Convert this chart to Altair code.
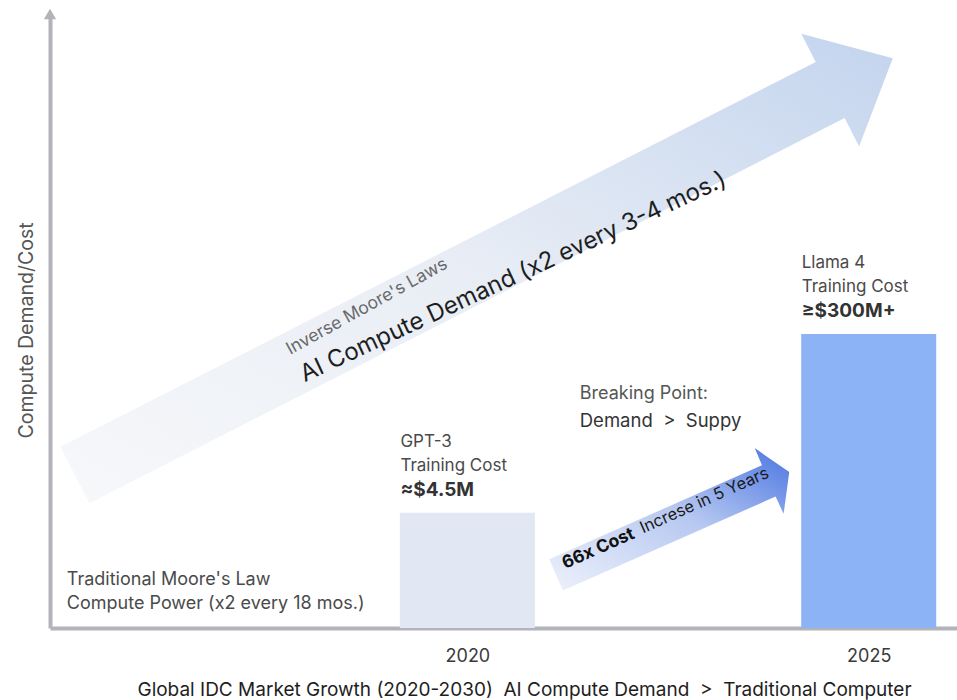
import altair as alt
import pandas as pd

FONT = "Inter"
AXIS_GRAY = "#b3b3bb"

# ---- bars: training cost per flagship model ($M) ----
years = [2020, 2025]
model_names = ["GPT-3", "Llama 4"]
cost_musd = [4.5, 300]
cost_labels = ["≈$4.5M", "\u00a0≥$300M+"]
bar_colors = ["#e1e7f3", "#8db3f7"]

# ---- scales ----
X_DOMAIN = [2014.8, 2026.1]          # years
COST_DOMAIN = [0.3, 550000]          # $M, log scale
LEVEL_DOMAIN = [0, 100]              # relative demand level for the trend arrows

# ---- trend arrows (polygon outlines, year vs. relative level) ----
demand_arrow_year = [2014.93, 2024.34, 2024.16, 2025.30, 2024.88, 2024.70, 2015.29]
demand_arrow_level = [29.5, 92.2, 96.8, 92.8, 78.4, 83.05, 20.3]

cost_arrow_year = [2021.02, 2023.67, 2023.58, 2024.01, 2023.94, 2023.84, 2021.19]
cost_arrow_level = [11.2, 26.5, 29.3, 25.4, 18.6, 21.4, 6.1]

# ---- annotation texts ----
moore_lines = ["Traditional Moore's Law", "Compute Power (x2 every 18 mos.)"]
moore_year = [2015.01, 2015.01]
moore_level = [7.8, 3.9]

breaking_lines = ["Breaking Point:", "Demand\u00a0\u00a0>\u00a0\u00a0Suppy"]
breaking_year = [2021.40, 2021.40]
breaking_level = [38.1, 33.7]

inverse_text = ["Inverse Moore's Laws"]
inverse_year = [2018.78]
inverse_level = [51.6]

demand_text = ["AI Compute Demand (x2 every 3-4 mos.)"]
demand_year = [2020.61]
demand_level = [56.1]

cost_bold = ["66x Cost"]
cost_bold_year = [2021.22]
cost_bold_level = [9.6]
cost_rest = ["Increse in 5 Years"]
cost_rest_year = [2023.77]
cost_rest_level = [24.6]

x_title = ("Global IDC Market Growth (2020-2030)\u00a0\u00a0AI Compute Demand"
           "\u00a0\u00a0>\u00a0\u00a0Traditional Computer")
y_title = "Compute Demand/Cost"

# ---------------------------------------------------------------------------
x_scale = alt.Scale(domain=X_DOMAIN, nice=False, zero=False, padding=0)
cost_scale = alt.Scale(type="log", domain=COST_DOMAIN, nice=False, padding=0)
level_scale = alt.Scale(domain=LEVEL_DOMAIN, nice=False, zero=False, padding=0)

x_axis = alt.Axis(
    values=years, format="d", title=x_title, orient="bottom",
    labelFontSize=18, labelColor="#3a3a3a", labelPadding=19,
    ticks=False, tickSize=0, grid=False,
    domainColor=AXIS_GRAY, domainWidth=4,
    titleFontSize=19, titleFontWeight="normal", titleColor="#1e1e1e", titlePadding=15,
    titleX=474,
)
y_axis = alt.Axis(
    title=y_title, orient="left", labels=False, ticks=False, tickSize=0, grid=False,
    domainColor=AXIS_GRAY, domainWidth=4,
    titleFontSize=19.5, titleFontWeight="normal", titleColor="#555555", titlePadding=14,
    titleY=316,
)


def x_enc():
    return alt.X("year:Q", scale=x_scale, axis=x_axis)


def cost_enc():
    return dict(x=x_enc(), y=alt.Y("cost:Q", scale=cost_scale, axis=y_axis))


def level_enc():
    return dict(x=x_enc(), y=alt.Y("level:Q", scale=level_scale, axis=None))


bars_df = pd.DataFrame({"year": years, "cost": cost_musd, "model": model_names, "label": cost_labels})

bars = alt.Chart(bars_df).mark_bar(size=135).encode(
    y2=alt.datum(COST_DOMAIN[0]),
    color=alt.Color("model:N", scale=alt.Scale(domain=model_names, range=bar_colors), legend=None),
    **cost_enc(),
)

name_text = alt.Chart(bars_df).mark_text(
    align="left", baseline="middle", dx=-67, dy=-71, fontSize=17, color="#4a4a4a"
).encode(text="model:N", **cost_enc())
kind_text = alt.Chart(bars_df).mark_text(
    align="left", baseline="middle", dx=-67, dy=-47, fontSize=17, color="#4a4a4a"
).encode(text=alt.value("Training Cost"), **cost_enc())
value_text = alt.Chart(bars_df).mark_text(
    align="left", baseline="middle", dx=-67, dy=-23, fontSize=19, fontWeight="bold", color="#333333"
).encode(text="label:N", **cost_enc())

cost_layer = alt.layer(bars, name_text, kind_text, value_text)

# ---------------------------------------------------------------------------
def polygon(xs, ys):
    return pd.DataFrame({"year": xs, "level": ys, "order": list(range(len(xs)))})


demand_fill = alt.LinearGradient(
    gradient="linear", x1=0, y1=1, x2=1, y2=0,
    stops=[alt.GradientStop(color="#f7f8fa", offset=0),
           alt.GradientStop(color="#e8edf5", offset=0.5),
           alt.GradientStop(color="#c3d4ee", offset=1)],
)
cost_fill = alt.LinearGradient(
    gradient="linear", x1=0, y1=1, x2=1, y2=0,
    stops=[alt.GradientStop(color="#eef1fb", offset=0),
           alt.GradientStop(color="#b6c8f1", offset=0.55),
           alt.GradientStop(color="#4a74e1", offset=1)],
)

demand_arrow = alt.Chart(polygon(demand_arrow_year, demand_arrow_level)).mark_line(
    filled=True, color=demand_fill, strokeWidth=0
).encode(order="order:Q", **level_enc())

cost_arrow = alt.Chart(polygon(cost_arrow_year, cost_arrow_level)).mark_line(
    filled=True, color=cost_fill, strokeWidth=0
).encode(order="order:Q", **level_enc())


def text_df(texts, xs, ys):
    return pd.DataFrame({"text": texts, "year": xs, "level": ys})


moore = alt.Chart(text_df(moore_lines, moore_year, moore_level)).mark_text(
    align="left", baseline="middle", fontSize=18, color="#4a4a4a"
).encode(text="text:N", **level_enc())

breaking_head = alt.Chart(text_df(breaking_lines[:1], breaking_year[:1], breaking_level[:1])).mark_text(
    align="left", baseline="middle", fontSize=18, color="#555555"
).encode(text="text:N", **level_enc())
breaking_body = alt.Chart(text_df(breaking_lines[1:], breaking_year[1:], breaking_level[1:])).mark_text(
    align="left", baseline="middle", fontSize=18.5, color="#333333"
).encode(text="text:N", **level_enc())

inverse = alt.Chart(text_df(inverse_text, inverse_year, inverse_level)).mark_text(
    align="center", baseline="alphabetic", angle=331, fontSize=17.5, color="#6a6a6a"
).encode(text="text:N", **level_enc())

demand = alt.Chart(text_df(demand_text, demand_year, demand_level)).mark_text(
    align="center", baseline="alphabetic", angle=335, fontSize=24, color="#1e1e1e"
).encode(text="text:N", **level_enc())

cost_b = alt.Chart(text_df(cost_bold, cost_bold_year, cost_bold_level)).mark_text(
    align="left", baseline="alphabetic", angle=336, fontSize=17.5, fontWeight="bold", color="#111111"
).encode(text="text:N", **level_enc())
cost_r = alt.Chart(text_df(cost_rest, cost_rest_year, cost_rest_level)).mark_text(
    align="right", baseline="alphabetic", angle=336, fontSize=16.5, color="#1a1a1a"
).encode(text="text:N", **level_enc())

# arrowhead capping the vertical axis
axis_tip = alt.Chart(text_df([""], [X_DOMAIN[0]], [LEVEL_DOMAIN[1]])).mark_point(
    shape="triangle-up", filled=True, size=150, color=AXIS_GRAY, opacity=1
).encode(**level_enc())

level_layer = alt.layer(
    demand_arrow, cost_arrow, moore, breaking_head, breaking_body,
    inverse, demand, cost_b, cost_r, axis_tip,
)

chart = alt.layer(level_layer, cost_layer).resolve_scale(y="independent").properties(
    width=907,
    height=614,
    padding={"left": 50, "top": 14, "right": 0, "bottom": 72},
    autosize=alt.AutoSizeParams(type="none"),
    background="white",
).configure(font=FONT).configure_view(stroke=None)

chart.save("out.html", embed_options={"renderer": "svg", "actions": False})
